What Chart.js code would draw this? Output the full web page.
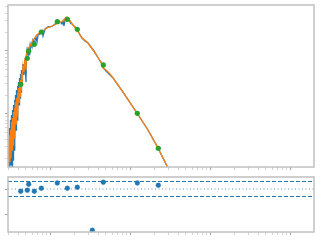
<!DOCTYPE html>
<html>
<head>
<meta charset="utf-8">
<style>
    html, body { margin: 0; padding: 0; background: #fff; }
    #sedChart { position: absolute; left: 0; top: 0; }
    #residChart { position: absolute; left: 0; top: 172px; }
</style>
<script src="https://cdn.jsdelivr.net/npm/chart.js@4.4.0/dist/chart.umd.min.js"></script>
</head>
<body>
<canvas id="sedChart" width="320" height="172"></canvas>
<canvas id="residChart" width="320" height="68"></canvas>
<script>
// Observed spectrum (blue)
const OBS_WAVE = [0.303, 0.307, 0.312, 0.316, 0.321, 0.325, 0.330, 0.335, 0.340, 0.345, 0.350, 0.355,
    0.360, 0.365, 0.370, 0.376, 0.381, 0.387, 0.392, 0.398, 0.404, 0.410, 0.416, 0.422, 0.428, 0.434,
    0.440, 0.447, 0.460, 0.473, 0.487, 0.501, 0.508, 0.516, 0.531, 0.546, 0.562, 0.579, 0.596, 0.613,
    0.631, 0.649, 0.668, 0.688, 0.708, 0.750, 0.794, 0.818, 0.866, 0.944, 1.059, 1.155, 1.259, 1.373,
    1.413, 1.454, 1.496, 1.540, 1.585, 1.631, 1.679, 1.728, 1.778, 1.884, 1.995, 2.114, 2.239, 2.371,
    2.512, 2.738, 2.985, 3.255, 3.548, 3.869, 4.217, 4.467, 4.732, 5.158, 5.623, 6.131, 8.17, 12.23,
    16.79, 22.39, 29.0, 42.17];
const OBS_FLUX = [0.268, 0.144, 0.6, 0.129, 0.803, 0.155, 0.964, 0.139, 1.157, 0.186, 1.39, 0.268,
    1.67, 0.387, 2.00, 0.557, 2.40, 0.803, 2.78, 1.076, 3.22, 1.39, 3.73, 1.79, 4.31, 2.23,
    4.99, 2.89, 6.22, 4.16, 7.20, 3.22, 8.96, 10.37, 8.64, 11.57, 9.64, 12.92, 11.57, 14.95,
    13.90, 14.95, 16.68, 13.90, 17.95, 18.62, 20.77, 17.30, 22.34, 24.04, 24.49, 26.83, 27.83, 28.35,
    26.83, 29.94, 24.94, 31.62, 33.40, 34.01, 32.20, 31.05, 28.87, 26.83, 24.94, 23.18, 20.77, 17.95,
    16.08, 14.41, 13.40, 11.57, 10.0, 8.33, 6.94, 6.22, 5.18, 4.64, 4.16, 3.73, 2.23, 1.037,
    0.557, 0.2886, 0.1495, 0.0645];

// Model spectrum (orange)
const MODEL_WAVE = [0.2985, 0.303, 0.307, 0.312, 0.316, 0.321, 0.325, 0.330, 0.335, 0.340, 0.345, 0.350,
    0.355, 0.360, 0.365, 0.370, 0.376, 0.381, 0.387, 0.392, 0.398, 0.404, 0.410, 0.416, 0.422, 0.428,
    0.434, 0.440, 0.447, 0.460, 0.473, 0.487, 0.501, 0.508, 0.516, 0.531, 0.546, 0.562, 0.579, 0.596,
    0.613, 0.631, 0.668, 0.708, 0.750, 0.841, 0.917, 1.059, 1.223, 1.373, 1.454, 1.496, 1.585, 1.631,
    1.679, 1.778, 1.939, 2.175, 2.512, 2.901, 3.447, 4.097, 4.340, 4.597, 5.012, 5.623, 6.131, 8.17,
    12.23, 16.79, 22.39, 29.0, 42.17];
const MODEL_FLUX = [0.129, 0.387, 0.139, 0.464, 0.173, 0.557, 0.2, 0.746, 0.268, 0.864, 0.322, 1.076,
    0.416, 1.245, 0.557, 1.55, 0.694, 1.79, 0.929, 2.15, 1.245, 2.59, 1.55, 2.99, 1.93, 3.46,
    2.40, 4.31, 2.99, 5.78, 4.64, 7.74, 4.99, 8.64, 9.64, 11.16, 10.37, 12.92, 12.01, 13.90,
    14.95, 15.50, 17.30, 18.62, 19.67, 21.54, 23.18, 24.94, 27.32, 28.87, 29.94, 31.62, 34.01, 34.65,
    33.40, 29.94, 25.87, 21.54, 16.08, 13.90, 10.37, 7.46, 6.69, 5.37, 4.99, 4.31, 3.73, 2.23,
    1.037, 0.557, 0.2886, 0.1495, 0.0645];

// Photometry (green) and residuals (blue dots below)
const PHOT_WAVE = [0.4305, 0.520, 0.5416, 0.6364, 0.778, 1.234, 1.645, 2.194, 3.380, 4.638, 12.34, 22.58];
const PHOT_FLUX = [2.96, 7.66, 10.0, 12.77, 20.03, 29.18, 31.86, 22.10, null, 6.00, 1.026, 0.2855];
const RESIDUALS = [-0.09, -0.05, 0.19, -0.09, 0.03, 0.24, 0.03, 0.07, -1.65, 0.27, 0.24, 0.15];

// Reference lines and ticks of the residual panel
const SIGMA_LINES = [0.3, -0.3];
const ZERO_LINE = 0;
const RESID_TICKS = [0, -1];

// Axis ranges
const X_RANGE = [0.2985, 1995];
const FLUX_RANGE = [0.144, 53.7];
const RESID_RANGE = [-1.72, 0.48];

const COLORS = {
    blue: '#1f77b4',
    orange: '#ff7f0e',
    green: '#2ca02c',
    frame: '#c0c0c0',
    majorTick: '#a0a0a0',
    minorTick: '#d4d4d4'
};

// Log ticks 1..9 x 10^n inside a range
function logTicks(min, max) {
    const ticks = [];
    for (let e = -3; e <= 4; e++) {
        for (let m = 1; m <= 9; m++) {
            const v = m * Math.pow(10, e);
            if (v >= min && v <= max) ticks.push({ value: v, major: m === 1 });
        }
    }
    return ticks;
}

function toPoints(xs, ys) {
    return xs.map((x, i) => ({ x: x, y: ys[i] }));
}

// Box around the plot area, like a matplotlib axes frame
const framePlugin = {
    id: 'frame',
    afterDraw(chart) {
        const { ctx, chartArea: a } = chart;
        ctx.save();
        ctx.strokeStyle = COLORS.frame;
        ctx.lineWidth = 1.5;
        ctx.strokeRect(a.left, a.top, a.right - a.left, a.bottom - a.top);
        ctx.restore();
    }
};

function tickGrid() {
    return {
        drawOnChartArea: false,
        drawTicks: true,
        tickLength: 3,
        tickColor: (c) => (c.tick && c.tick.major) ? COLORS.majorTick : COLORS.minorTick
    };
}

function logXAxis() {
    return {
        type: 'logarithmic',
        min: X_RANGE[0],
        max: X_RANGE[1],
        border: { display: false },
        grid: tickGrid(),
        ticks: { display: false },
        afterBuildTicks: (scale) => { scale.ticks = logTicks(X_RANGE[0], X_RANGE[1]); }
    };
}

const baseOptions = {
    responsive: false,
    animation: false,
    devicePixelRatio: 1,
    plugins: { legend: { display: false }, tooltip: { enabled: false } }
};

// Top panel: SED
new Chart(document.getElementById('sedChart').getContext('2d'), {
    type: 'scatter',
    data: {
        datasets: [{
            data: toPoints(PHOT_WAVE, PHOT_FLUX),
            backgroundColor: COLORS.green,
            borderColor: COLORS.green,
            pointRadius: 2.6,
            borderWidth: 0,
            order: 0
        }, {
            data: toPoints(MODEL_WAVE, MODEL_FLUX),
            showLine: true,
            borderColor: COLORS.orange,
            borderWidth: 1.3,
            pointRadius: 0,
            order: 1
        }, {
            data: toPoints(OBS_WAVE, OBS_FLUX),
            showLine: true,
            borderColor: COLORS.blue,
            borderWidth: 1.3,
            pointRadius: 0,
            order: 2
        }]
    },
    options: {
        ...baseOptions,
        layout: { padding: { left: 5, right: 6, top: 5, bottom: 2 } },
        scales: {
            x: logXAxis(),
            y: {
                type: 'logarithmic',
                min: FLUX_RANGE[0],
                max: FLUX_RANGE[1],
                border: { display: false },
                grid: tickGrid(),
                ticks: { display: false },
                afterBuildTicks: (scale) => { scale.ticks = logTicks(FLUX_RANGE[0], FLUX_RANGE[1]); }
            }
        }
    },
    plugins: [framePlugin]
});

// Bottom panel: residuals
const hLine = (y) => [{ x: X_RANGE[0], y: y }, { x: X_RANGE[1], y: y }];

new Chart(document.getElementById('residChart').getContext('2d'), {
    type: 'scatter',
    data: {
        datasets: [{
            data: toPoints(PHOT_WAVE, RESIDUALS),
            backgroundColor: COLORS.blue,
            borderColor: 'rgba(31,119,180,0.35)',
            borderWidth: 1,
            pointRadius: 2.4,
            order: 0
        },
        ...SIGMA_LINES.map((s) => ({
            data: hLine(s),
            showLine: true,
            borderColor: COLORS.blue,
            borderWidth: 1,
            borderDash: [4, 2],
            pointRadius: 0,
            order: 1
        })), {
            data: hLine(ZERO_LINE),
            showLine: true,
            borderColor: 'rgba(31,119,180,0.75)',
            borderWidth: 1,
            borderDash: [1, 2.5],
            pointRadius: 0,
            order: 1
        }]
    },
    options: {
        ...baseOptions,
        layout: { padding: { left: 5, right: 6, top: 5, bottom: 5 } },
        scales: {
            x: logXAxis(),
            y: {
                type: 'linear',
                min: RESID_RANGE[0],
                max: RESID_RANGE[1],
                border: { display: false },
                grid: tickGrid(),
                ticks: { display: false },
                afterBuildTicks: (scale) => {
                    scale.ticks = RESID_TICKS.map((v) => ({ value: v, major: true }));
                }
            }
        }
    },
    plugins: [framePlugin]
});
</script>
</body>
</html>
